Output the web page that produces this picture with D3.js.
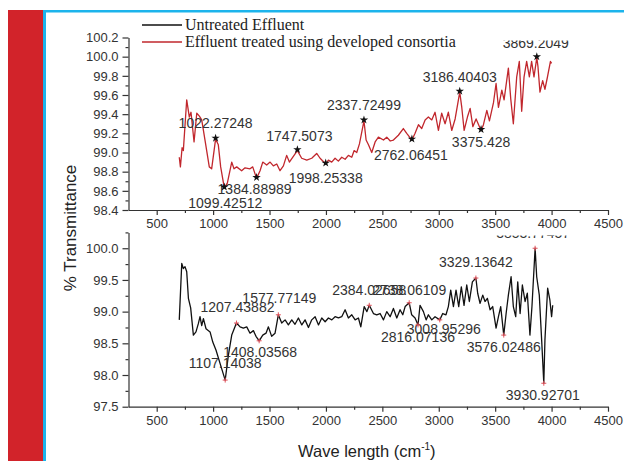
<!DOCTYPE html>
<html>
<head>
<meta charset="utf-8">
<script src="https://cdn.jsdelivr.net/npm/d3@7"></script>
<style>
  body { margin: 0; background: #fff; }
  svg { display: block; }
  .tick text { font-family: "Liberation Sans", Arial, sans-serif; font-size: 13px; fill: #333; }
  .tick line, .domain { stroke: #333; stroke-width: 1.2; }
  .peak { font-family: "Liberation Sans", Arial, sans-serif; font-size: 14px; fill: #333; }
</style>
</head>
<body>
<script>
// wave numbers (cm-1) and % transmittance
var treatedX = [700,710,725,736,766,789,804,831,855,878,899,928,966,987,1022,1046,1067,1099,1126,1165,1185,1209,1253,1283,1327,1351,1385,1416,1440,1475,1505,1534,1564,1593,1623,1652,1676,1705,1747,1785,1830,1874,1918,1948,1998,2022,2051,2081,2110,2140,2170,2199,2229,2250,2273,2297,2337,2356,2377,2406,2436,2465,2510,2539,2570,2598,2642,2686,2716,2762,2790,2820,2849,2879,2908,2938,2967,2997,3026,3056,3085,3115,3145,3186,3204,3225,3254,3278,3302,3331,3375,3396,3426,3449,3485,3508,3529,3559,3579,3617,3638,3661,3691,3714,3735,3756,3779,3803,3823,3844,3869,3879,3897,3921,3941,3962,3990,4000];
var treatedY = [98.95,98.85,99.05,99.02,99.55,99.37,99.42,99.11,99.41,99.38,99.34,99.13,98.85,98.83,99.14,99.08,98.85,98.63,98.68,98.9,98.83,98.85,98.81,98.84,98.83,98.85,98.73,98.81,98.9,98.87,98.9,98.86,98.88,98.81,98.86,98.97,98.9,98.95,99.02,98.94,98.92,98.94,98.99,98.94,98.88,98.92,98.9,98.94,98.91,98.95,98.93,98.97,98.95,99.02,99.0,99.09,99.33,99.13,99.08,99.0,99.11,99.16,99.13,99.16,99.12,99.13,99.18,99.25,99.2,99.13,99.2,99.29,99.25,99.34,99.37,99.34,99.42,99.23,99.41,99.3,99.42,99.23,99.35,99.63,99.47,99.23,99.37,99.46,99.27,99.35,99.23,99.29,99.44,99.33,99.52,99.72,99.47,99.65,99.55,99.88,99.56,99.3,99.79,99.95,99.43,99.79,99.95,99.79,99.95,99.79,99.99,99.9,99.63,99.75,99.66,99.78,99.95,99.93];

var untreatedX = [700,722,736,751,766,781,801,825,848,869,884,899,914,937,973,997,1026,1062,1107,1135,1165,1207,1239,1268,1298,1327,1357,1380,1408,1440,1469,1490,1519,1549,1578,1608,1638,1667,1697,1726,1756,1786,1815,1845,1874,1904,1934,1963,1993,2022,2052,2081,2111,2140,2170,2199,2229,2259,2288,2309,2339,2363,2384,2421,2450,2480,2510,2539,2569,2598,2628,2657,2681,2702,2738,2760,2790,2816,2834,2864,2888,2908,2938,2967,3009,3035,3064,3085,3106,3130,3153,3177,3200,3224,3248,3271,3298,3329,3345,3366,3390,3410,3431,3455,3478,3508,3529,3549,3576,3597,3617,3641,3661,3682,3700,3721,3741,3765,3785,3808,3826,3854,3868,3891,3912,3931,3941,3965,3985,4000,4010];
var untreatedY = [98.87,99.76,99.68,99.71,99.63,99.21,99.06,98.63,98.68,98.81,98.92,98.78,98.89,98.73,98.68,98.52,98.39,98.18,97.92,98.31,98.63,98.82,98.76,98.74,98.76,98.66,98.7,98.61,98.54,98.63,98.66,98.76,98.61,98.66,98.95,98.82,98.87,98.79,98.87,98.8,98.9,98.79,98.87,98.75,98.87,98.92,98.79,98.9,98.84,98.9,98.87,98.92,98.9,98.92,99.03,98.9,98.95,98.87,98.9,98.76,99.08,99.0,99.1,98.97,98.95,98.97,98.87,99.0,98.92,99.05,98.9,99.03,98.95,99.08,99.14,98.95,98.9,98.79,99.1,99.0,98.87,98.95,98.87,98.92,98.87,98.97,98.95,99.08,99.34,99.08,99.34,99.08,99.39,99.1,99.42,99.16,99.47,99.53,99.29,99.13,99.26,99.16,99.21,99.03,99.08,98.74,98.92,99.08,98.63,98.97,99.26,99.55,99.08,98.92,99.47,98.97,99.42,99.16,99.29,98.63,99.08,100.0,99.55,99.26,98.55,97.87,98.55,99.37,99.18,98.92,99.1];

// picked peaks
var treatedPeakX = [1022,1099,1385,1747,1998,2337,2762,3186,3375,3869];
var treatedPeakY = [99.14,98.63,98.73,99.02,98.88,99.33,99.13,99.63,99.23,99.99];
var treatedPeakText = ["1022.27248","1099.42512","1384.88989","1747.5073","1998.25338","2337.72499","2762.06451","3186.40403","3375.428","3869.2049"];

var untreatedPeakX = [1107,1207,1408,1578,2384,2738,2816,3009,3329,3576,3854,3931];
var untreatedPeakY = [97.92,98.82,98.54,98.95,99.1,99.14,98.79,98.87,99.53,98.63,100.0,97.87];
var untreatedPeakText = ["1107.14038","1207.43882","1408.03568","1577.77149","2384.02658","2738.06109","2816.07136","3008.95296","3329.13642","3576.02486","3853.77457","3930.92701"];

var xTicks = [500,1000,1500,2000,2500,3000,3500,4000,4500];
var xMinor = [750,1250,1750,2250,2750,3250,3750,4250];
var topTicks = [98.4,98.6,98.8,99.0,99.2,99.4,99.6,99.8,100.0,100.2];
var topMinor = [98.5,98.7,98.9,99.1,99.3,99.5,99.7,99.9,100.1];
var botTicks = [97.5,98.0,98.5,99.0,99.5,100.0];
var botMinor = [97.75,98.25,98.75,99.25,99.75,100.25];

var legendText = ["Untreated Effluent", "Effluent treated using developed consortia"];

// label offsets from the peak marker (layout only)
var treatedDy = [-11,20,16,-10,19,-11,20,-10,17,-10];
var treatedDx = [0,1,-2,2,0,0,-1,0,0,-1];
var untreatedDy = [-12,-11,16,-12,-10,-8,17,14,-11,17,-10,17];
var untreatedDx = [0,1,1,1,0,0,0,4,0,0,-2,-1];

var W = 624, H = 461;
var red = "#c1272d", black = "#111";

var svg = d3.select("body").append("svg")
  .attr("width", W)
  .attr("height", H);

// page frame: red band and blue rule
svg.append("rect").attr("x", 8).attr("y", 10).attr("width", 35).attr("height", H - 10).attr("fill", "#d2232a");
svg.append("rect").attr("x", 43).attr("y", 10).attr("width", W - 43).attr("height", 2.5).attr("fill", "#1cb4ec");
svg.append("rect").attr("x", 43).attr("y", 10).attr("width", 3).attr("height", H - 10).attr("fill", "#1cb4ec");

var x = d3.scaleLinear().domain([250, 4500]).range([128.5, 608]);
var yTop = d3.scaleLinear().domain([98.4, 100.2]).range([210, 37.5]);
var yBot = d3.scaleLinear().domain([97.5, 100.25]).range([406.7, 232.4]);

// labels are cut off at the top of each panel, as in the source figure
var defs = svg.append("defs");
defs.append("clipPath").attr("id", "clipTop").append("rect")
  .attr("x", 128).attr("y", 40.5).attr("width", 490).attr("height", 190);
defs.append("clipPath").attr("id", "clipBot").append("rect")
  .attr("x", 128).attr("y", 235.5).attr("width", 490).attr("height", 190);

function drawAxes(y, ticks, minor, yAxisY) {
  svg.append("g").attr("transform", "translate(0," + yAxisY + ")")
    .call(d3.axisBottom(x).tickValues(xMinor).tickSize(3).tickSizeOuter(0).tickFormat(""))
    .select(".domain").remove();
  svg.append("g").attr("transform", "translate(0," + yAxisY + ")")
    .call(d3.axisBottom(x).tickValues(xTicks).tickSize(5).tickSizeOuter(0).tickPadding(4).tickFormat(d3.format("d")));
  svg.append("g").attr("transform", "translate(" + x(250) + ",0)")
    .call(d3.axisLeft(y).tickValues(minor).tickSize(3).tickSizeOuter(0).tickFormat(""))
    .select(".domain").remove();
  svg.append("g").attr("transform", "translate(" + x(250) + ",0)")
    .call(d3.axisLeft(y).tickValues(ticks).tickSize(6).tickSizeOuter(0).tickPadding(4).tickFormat(d3.format(".1f")));
}

drawAxes(yTop, topTicks, topMinor, 210);
drawAxes(yBot, botTicks, botMinor, 406.7);

// curves
var lineTop = d3.line().x(function(d) { return x(d[0]); }).y(function(d) { return yTop(d[1]); });
var lineBot = d3.line().x(function(d) { return x(d[0]); }).y(function(d) { return yBot(d[1]); });

svg.append("path")
  .datum(d3.zip(treatedX, treatedY))
  .attr("d", lineTop)
  .attr("fill", "none").attr("stroke", red).attr("stroke-width", 1.3).attr("stroke-linejoin", "round");

svg.append("path")
  .datum(d3.zip(untreatedX, untreatedY))
  .attr("d", lineBot)
  .attr("fill", "none").attr("stroke", black).attr("stroke-width", 1.3).attr("stroke-linejoin", "round");

// peak markers and labels
var topG = svg.append("g").attr("clip-path", "url(#clipTop)");
var star = d3.symbol().type(d3.symbolStar).size(22);
d3.range(treatedPeakX.length).forEach(function(i) {
  var px = x(treatedPeakX[i]), py = yTop(treatedPeakY[i]);
  svg.append("path").attr("d", star).attr("transform", "translate(" + px + "," + (py - 1) + ")").attr("fill", "#111");
  topG.append("text").attr("class", "peak")
    .attr("x", px + treatedDx[i]).attr("y", py + treatedDy[i])
    .attr("text-anchor", "middle").text(treatedPeakText[i]);
});

var botG = svg.append("g").attr("clip-path", "url(#clipBot)");
d3.range(untreatedPeakX.length).forEach(function(i) {
  var px = x(untreatedPeakX[i]), py = yBot(untreatedPeakY[i]);
  svg.append("path").attr("d", "M-2.5,0H2.5M0,-2.5V2.5")
    .attr("transform", "translate(" + px + "," + py + ")")
    .attr("stroke", "#e0505a").attr("stroke-width", 1).attr("fill", "none");
  botG.append("text").attr("class", "peak")
    .attr("x", px + untreatedDx[i]).attr("y", py + untreatedDy[i])
    .attr("text-anchor", "middle").text(untreatedPeakText[i]);
});

// legend
var leg = svg.append("g");
[black, red].forEach(function(c, i) {
  leg.append("line").attr("x1", 142).attr("x2", 182).attr("y1", 25 + i * 17).attr("y2", 25 + i * 17)
    .attr("stroke", c).attr("stroke-width", 1.3);
  leg.append("text").attr("x", 185).attr("y", 30 + i * 17)
    .style("font-family", "'Liberation Serif', 'Times New Roman', serif").style("font-size", "16px").style("fill", "#222")
    .text(legendText[i]);
});

// axis titles
svg.append("text")
  .attr("transform", "translate(76,228) rotate(-90)")
  .attr("text-anchor", "middle")
  .style("font-family", "'Liberation Sans', Arial, sans-serif").style("font-size", "17px").style("fill", "#222")
  .text("% Transmittance");

var xt = svg.append("text")
  .attr("x", 298).attr("y", 457)
  .style("font-family", "'Liberation Sans', Arial, sans-serif").style("font-size", "16.5px").style("fill", "#222");
xt.append("tspan").text("Wave length (cm");
xt.append("tspan").attr("dy", -7).style("font-size", "10px").text("-1");
xt.append("tspan").attr("dy", 7).text(")");
</script>
</body>
</html>
